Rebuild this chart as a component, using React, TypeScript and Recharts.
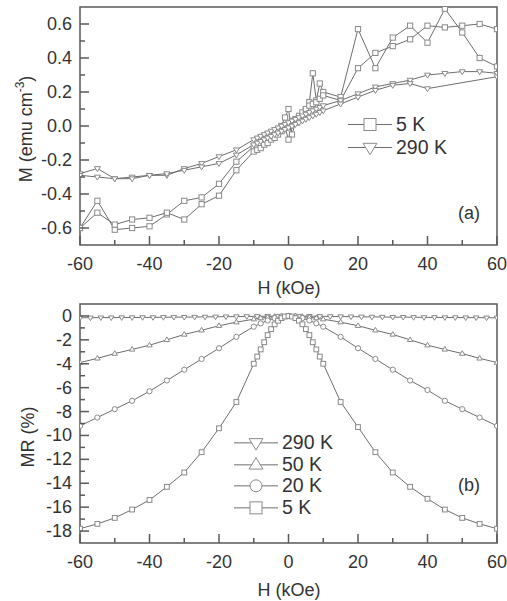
import React from 'react';
import { LineChart, Line, XAxis, YAxis, ReferenceArea, Label, Legend } from 'recharts';

// (a) magnetisation loops, H in kOe, M in emu cm^-3
const H_LOOP = [-60, -55, -50, -45, -40, -35, -30, -25, -20, -15, -10, -9, -8, -7, -6, -5, -4, -3, -2, -1, 0, 1, 2, 3, 4, 5, 6, 7, 8, 9, 10, 15, 20, 25, 30, 35, 40, 45, 50, 55, 60];
const H_LOOP_SHORT = [-60, -55, -50, -45, -40, -35, -30, -25, -20, -15, -10, -9, -8, -7, -6, -5, -4, -3, -2, -1, 0, 1, 2, 3, 4, 5, 6, 7, 8, 9, 10, 15, 20, 25, 30, 35, 40, 60];
const M_5K_A = [-0.6, -0.44, -0.61, -0.6, -0.59, -0.52, -0.44, -0.42, -0.34, -0.21, -0.12, -0.11, -0.1, -0.08, -0.07, -0.05, -0.04, -0.02, 0.0, 0.05, 0.1, -0.05, 0.02, 0.04, 0.06, 0.09, 0.14, 0.31, 0.15, 0.25, 0.2, 0.17, 0.57, 0.34, 0.52, 0.59, 0.49, 0.69, 0.55, 0.4, 0.35];
const M_5K_B = [-0.6, -0.51, -0.58, -0.55, -0.54, -0.51, -0.55, -0.46, -0.41, -0.26, -0.15, -0.14, -0.13, -0.11, -0.1, -0.08, -0.07, -0.05, -0.03, -0.01, -0.08, 0.03, 0.04, 0.06, 0.08, 0.1, 0.12, 0.13, 0.14, 0.16, 0.18, 0.15, 0.34, 0.43, 0.47, 0.51, 0.59, 0.58, 0.59, 0.6, 0.57];
const M_290K_A = [-0.28, -0.25, -0.31, -0.3, -0.29, -0.29, -0.25, -0.22, -0.18, -0.14, -0.08, -0.07, -0.06, -0.05, -0.04, -0.03, -0.02, -0.01, 0.0, 0.01, 0.02, 0.03, 0.04, 0.05, 0.06, 0.07, 0.08, 0.09, 0.1, 0.11, 0.12, 0.15, 0.19, 0.23, 0.25, 0.27, 0.3, 0.31, 0.32, 0.32, 0.31];
const M_290K_B = [-0.29, -0.3, -0.31, -0.31, -0.29, -0.28, -0.26, -0.24, -0.22, -0.17, -0.11, -0.1, -0.09, -0.08, -0.07, -0.06, -0.05, -0.04, -0.03, -0.02, -0.01, 0.0, 0.01, 0.02, 0.03, 0.04, 0.05, 0.06, 0.07, 0.08, 0.09, 0.13, 0.17, 0.21, 0.24, 0.25, 0.22, 0.29];

// (b) magnetoresistance, %
const H_MR_5K = H_LOOP;
const MR_5K = [-17.8, -17.4, -16.9, -16.2, -15.4, -14.3, -13.1, -11.4, -9.4, -7.2, -4.0, -3.4, -2.8, -2.2, -1.6, -1.1, -0.7, -0.4, -0.18, -0.05, 0, -0.05, -0.18, -0.4, -0.7, -1.1, -1.6, -2.2, -2.8, -3.4, -4.0, -7.2, -9.3, -11.4, -13.1, -14.3, -15.3, -16.2, -16.9, -17.4, -17.8];
const H_MR_MID = [-60, -55, -50, -45, -40, -35, -30, -25, -20, -15, -10, -8, -6, -4, -2, 0, 2, 4, 6, 8, 10, 15, 20, 25, 30, 35, 40, 45, 50, 55, 60];
const MR_20K = [-9.2, -8.5, -7.8, -7.1, -6.3, -5.4, -4.5, -3.6, -2.7, -1.75, -0.9, -0.62, -0.38, -0.18, -0.05, 0, -0.05, -0.18, -0.38, -0.62, -0.9, -1.75, -2.7, -3.6, -4.5, -5.4, -6.2, -7.1, -7.8, -8.5, -9.2];
const MR_50K = [-3.9, -3.55, -3.15, -2.8, -2.45, -2.0, -1.55, -1.2, -0.82, -0.52, -0.27, -0.18, -0.11, -0.05, -0.01, 0, -0.01, -0.05, -0.11, -0.18, -0.27, -0.52, -0.82, -1.2, -1.55, -2.0, -2.45, -2.8, -3.15, -3.55, -3.9];
const H_MR_290K = [-60, -57, -54, -51, -48, -45, -42, -39, -36, -33, -30, -27, -24, -21, -18, -15, -12, -9, -6, -3, 0, 3, 6, 9, 12, 15, 18, 21, 24, 27, 30, 33, 36, 39, 42, 45, 48, 51, 54, 57, 60];
const MR_290K = [-0.15, -0.15, -0.14, -0.14, -0.13, -0.13, -0.12, -0.12, -0.11, -0.1, -0.1, -0.09, -0.08, -0.07, -0.06, -0.05, -0.04, -0.03, -0.02, -0.01, 0, -0.01, -0.02, -0.03, -0.04, -0.05, -0.06, -0.07, -0.08, -0.09, -0.1, -0.1, -0.11, -0.12, -0.12, -0.13, -0.13, -0.14, -0.14, -0.15, -0.15];

const H_TICKS = [-60, -50, -40, -30, -20, -10, 0, 10, 20, 30, 40, 50, 60];
const M_TICKS = [-0.6, -0.5, -0.4, -0.3, -0.2, -0.1, 0, 0.1, 0.2, 0.3, 0.4, 0.5, 0.6];
const MR_TICKS = [0, -1, -2, -3, -4, -5, -6, -7, -8, -9, -10, -11, -12, -13, -14, -15, -16, -17, -18];

const FONT = '"Liberation Sans", Arial, sans-serif';
const INK = '#333';
const FRAME = '#5a5a5a';
const LINE = '#6e6e6e';
const MARK = '#8a8a8a';

type Shape = 'square' | 'down' | 'up' | 'circle';

const zip = (hs: number[], vs: number[]) => hs.map((h, i) => ({ h, v: vs[i] }));

function Marker({ shape, cx, cy, s }: { shape: Shape; cx: number; cy: number; s: number }) {
  const common = { fill: '#fff', stroke: MARK, strokeWidth: 1 };
  if (shape === 'square') return <rect x={cx - s} y={cy - s} width={2 * s} height={2 * s} {...common} />;
  if (shape === 'circle') return <circle cx={cx} cy={cy} r={s} {...common} />;
  if (shape === 'down')
    return <path d={`M${cx - s * 1.15},${cy - s * 0.7} L${cx + s * 1.15},${cy - s * 0.7} L${cx},${cy + s * 1.2} Z`} {...common} />;
  return <path d={`M${cx - s * 1.15},${cy + s * 0.7} L${cx + s * 1.15},${cy + s * 0.7} L${cx},${cy - s * 1.2} Z`} {...common} />;
}

const dotOf = (shape: Shape, s = 2.6) => (p: any) =>
  p.cx == null ? <g key={`n-${p.index}`} /> : <g key={`d-${p.index}`}><Marker shape={shape} cx={p.cx} cy={p.cy} s={s} /></g>;

function XTick(props: any) {
  const { x, y, payload } = props;
  const v = payload.value;
  const major = v % 20 === 0;
  return (
    <g>
      <line x1={x} x2={x} y1={y} y2={y - (major ? 9 : 5)} stroke={FRAME} strokeWidth={1.5} />
      {major && (
        <text x={x} y={y + 25} textAnchor="middle" fontSize={18} fontFamily={FONT} fill={INK}>
          {v}
        </text>
      )}
    </g>
  );
}

const makeYTick = (isMajor: (v: number) => boolean, fmt: (v: number) => string) => (props: any) => {
  const { x, y, payload } = props;
  const v = payload.value;
  const major = isMajor(v);
  return (
    <g>
      <line x1={x} x2={x + (major ? 9 : 5)} y1={y} y2={y} stroke={FRAME} strokeWidth={1.5} />
      {major && (
        <text x={x - 8} y={y + 6} textAnchor="end" fontSize={18} fontFamily={FONT} fill={INK}>
          {fmt(v)}
        </text>
      )}
    </g>
  );
};

const MTick = makeYTick((v) => Math.round(v * 10) % 2 === 0, (v) => v.toFixed(1));
const MRTick = makeYTick((v) => v % 2 === 0, (v) => String(v));

function LegendBox({ rows, rowH }: { rows: { shape: Shape; name: string }[]; rowH: number }) {
  return (
    <div style={{ fontFamily: FONT, fontSize: 19.5, color: INK }}>
      {rows.map((r) => (
        <div key={r.name} style={{ display: 'flex', alignItems: 'center', height: rowH }}>
          <svg width={44} height={rowH} style={{ display: 'block' }}>
            <line x1={0} x2={44} y1={rowH / 2} y2={rowH / 2} stroke={LINE} strokeWidth={1} />
            <Marker shape={r.shape} cx={22} cy={rowH / 2} s={6} />
          </svg>
          <span style={{ marginLeft: 4, lineHeight: `${rowH}px` }}>{r.name}</span>
        </div>
      ))}
    </div>
  );
}

const textStyle = { fontSize: 18, fontFamily: FONT, fill: INK };

export default function App() {
  const lineProps = { type: 'linear' as const, dataKey: 'v', stroke: LINE, strokeWidth: 1, isAnimationActive: false, legendType: 'none' as const };
  return (
    <div style={{ position: 'absolute', left: 0, top: 0, width: 507, height: 601, background: '#fff' }}>
      <div style={{ position: 'absolute', left: 0, top: 0 }}>
        <LineChart width={507} height={300} margin={{ top: 7, right: 10, bottom: 0, left: 10 }}>
          <XAxis type="number" dataKey="h" domain={[-60, 60]} ticks={H_TICKS} interval={0} tickSize={0} tickMargin={0} axisLine={false} tickLine={false} tick={<XTick />} height={55} allowDataOverflow>
            <Label content={() => <text x={289} y={294} textAnchor="middle" {...textStyle}>H (kOe)</text>} />
          </XAxis>
          <YAxis type="number" domain={[-0.7, 0.7]} ticks={M_TICKS} interval={0} tickSize={0} tickMargin={0} axisLine={false} tickLine={false} tick={<MTick />} width={70} allowDataOverflow>
            <Label
              content={() => (
                <text transform="translate(32,129) rotate(-90)" textAnchor="middle" {...textStyle}>
                  M (emu cm<tspan dy={-8} fontSize={12}>-3</tspan>
                  <tspan dy={8}>)</tspan>
                </text>
              )}
            />
          </YAxis>
          <Line {...lineProps} data={zip(H_LOOP, M_5K_A)} dot={dotOf('square')} />
          <Line {...lineProps} data={zip(H_LOOP, M_5K_B)} dot={dotOf('square')} />
          <Line {...lineProps} data={zip(H_LOOP, M_290K_A)} dot={dotOf('down')} />
          <Line {...lineProps} data={zip(H_LOOP_SHORT, M_290K_B)} dot={dotOf('down')} />
          <ReferenceArea x1={-60} x2={60} y1={-0.7} y2={0.7} fill="none" stroke={FRAME} strokeWidth={1.5} strokeOpacity={1}>
            <Label content={() => <text x={480} y={219} textAnchor="end" {...textStyle}>(a)</text>} />
          </ReferenceArea>
          <Legend
            layout="vertical"
            align="center"
            verticalAlign="middle"
            wrapperStyle={{ left: 348, top: 113, width: 'auto' }}
            content={() => (
              <LegendBox rowH={23} rows={[{ shape: 'square', name: '5 K' }, { shape: 'down', name: '290 K' }]} />
            )}
          />
        </LineChart>
      </div>
      <div style={{ position: 'absolute', left: 0, top: 290 }}>
        <LineChart width={507} height={311} margin={{ top: 14, right: 10, bottom: 0, left: 10 }}>
          <XAxis type="number" dataKey="h" domain={[-60, 60]} ticks={H_TICKS} interval={0} tickSize={0} tickMargin={0} axisLine={false} tickLine={false} tick={<XTick />} height={58} allowDataOverflow>
            <Label content={() => <text x={289} y={306} textAnchor="middle" {...textStyle}>H (kOe)</text>} />
          </XAxis>
          <YAxis type="number" domain={[-19, 1]} ticks={MR_TICKS} interval={0} tickSize={0} tickMargin={0} axisLine={false} tickLine={false} tick={<MRTick />} width={70} allowDataOverflow>
            <Label
              content={() => (
                <text transform="translate(34,147) rotate(-90)" textAnchor="middle" {...textStyle}>
                  MR (%)
                </text>
              )}
            />
          </YAxis>
          <Line {...lineProps} data={zip(H_MR_290K, MR_290K)} dot={dotOf('down', 2.4)} />
          <Line {...lineProps} data={zip(H_MR_MID, MR_50K)} dot={dotOf('up', 2.4)} />
          <Line {...lineProps} data={zip(H_MR_MID, MR_20K)} dot={dotOf('circle', 2.6)} />
          <Line {...lineProps} data={zip(H_MR_5K, MR_5K)} dot={dotOf('square', 2.4)} />
          <ReferenceArea x1={-60} x2={60} y1={-19} y2={1} fill="none" stroke={FRAME} strokeWidth={1.5} strokeOpacity={1}>
            <Label content={() => <text x={480} y={201} textAnchor="end" {...textStyle}>(b)</text>} />
          </ReferenceArea>
          <Legend
            layout="vertical"
            align="center"
            verticalAlign="middle"
            wrapperStyle={{ left: 234, top: 142, width: 'auto' }}
            content={() => (
              <LegendBox
                rowH={21.7}
                rows={[
                  { shape: 'down', name: '290 K' },
                  { shape: 'up', name: '50 K' },
                  { shape: 'circle', name: '20 K' },
                  { shape: 'square', name: '5 K' },
                ]}
              />
            )}
          />
        </LineChart>
      </div>
    </div>
  );
}
